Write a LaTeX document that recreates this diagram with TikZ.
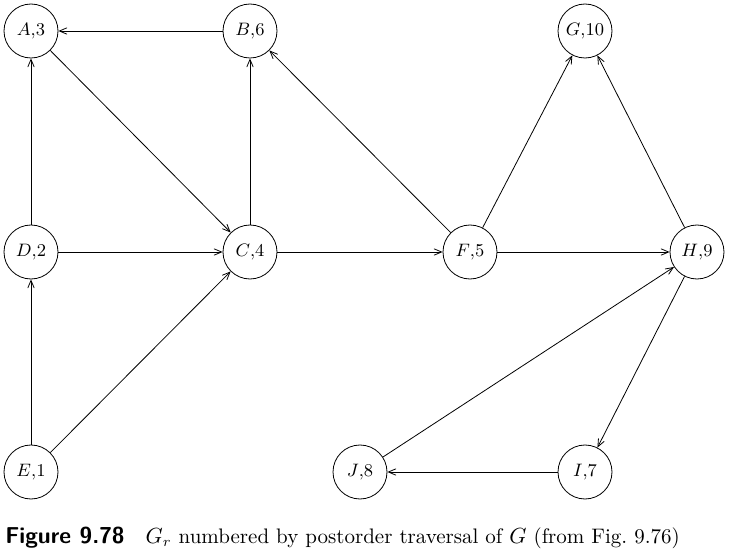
\documentclass[tikz,border=0pt]{standalone}
\usepackage{amsmath}
\usepackage{tikz}
\usetikzlibrary{arrows}

\tikzset{
  vertex/.style={circle, draw, minimum size=27pt, inner sep=0pt, font=\small},
}

\begin{document}
\begin{tikzpicture}[x=0.5pt,y=0.5pt,>=angle 45,thin]
	     \useasboundingbox (0,0) rectangle (730,553);
	     \node[vertex] (a) at (31,522) {$A$,3};
	     \node[vertex] (b) at (250,522) {$B$,6};
	     \node[vertex] (g) at (585,522) {$G$,10};
	     \node[vertex] (d) at (31,301) {$D$,2};
	     \node[vertex] (c) at (250,301) {$C$,4};
	     \node[vertex] (f) at (470,301) {$F$,5};
	     \node[vertex] (h) at (697,301) {$H$,9};
	     \node[vertex] (e) at (31,81) {$E$,1};
	     \node[vertex] (j) at (360,81) {$J$,8};
	     \node[vertex] (i) at (585,81) {$I$,7};

	     \path[->]
	       (b) edge (a)
	       (a) edge (c)
	       (d) edge (a)
	       (c) edge (b)
	       (d) edge (c)
	       (e) edge (d)
	       (e) edge (c)
	       (c) edge (f)
	       (f) edge (b)
	       (f) edge (g)
	       (f) edge (h)
	       (h) edge (g)
	       (h) edge (i)
	       (i) edge (j)
	       (j) edge (h)
	     ;

	     \node[anchor=west, inner sep=0pt, font=\fontsize{10.5}{12}\selectfont] (caption) at (5,15)
	       {\textsf{\bfseries\fontsize{11.5}{12}\selectfont Figure 9.78}\quad $G_r$ numbered by postorder traversal of $G$ (from Fig.~9.76)};
           \end{tikzpicture}
\end{document}
